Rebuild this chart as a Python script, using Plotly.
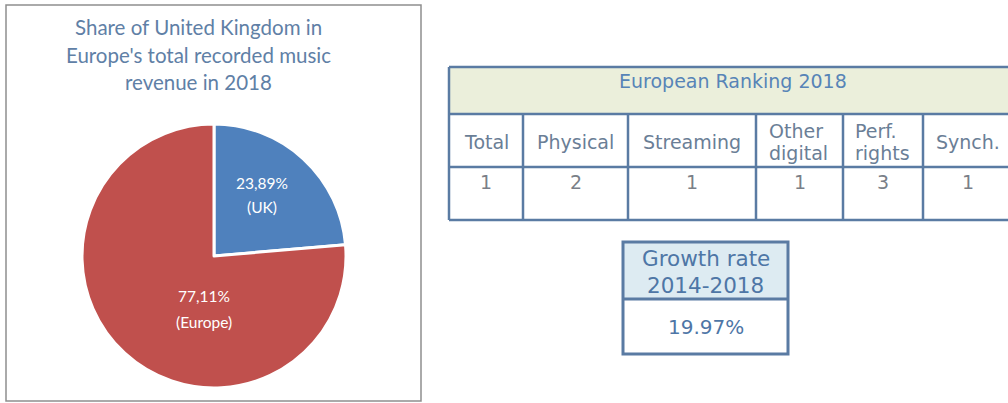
import plotly.graph_objects as go

# ---- data ----
pie_labels = ["UK", "Europe"]
pie_values = [23.89, 77.11]
pie_colors = ["#4F81BD", "#C0504D"]
pie_title_lines = ["Share of United Kingdom in", "Europe's total recorded music", "revenue in 2018"]

ranking_title = "European Ranking 2018"
ranking_columns = ["Total", "Physical", "Streaming", "Other<br>digital", "Perf.<br>rights", "Synch."]
ranking_values = [1, 2, 1, 1, 3, 1]

growth_title_lines = ["Growth rate", "2014-2018"]
growth_rate = 19.97

# ---- page geometry (pixels) ----
W, H = 1008, 403


def px(x):
    return x / W


def py(y):
    return 1 - y / H


BORDER = "#5A7BA3"
shapes = []
annotations = []


def rect(x0, y0, x1, y1, fill="rgba(0,0,0,0)", line=BORDER, width=2.5):
    shapes.append(dict(type="rect", xref="paper", yref="paper",
                       x0=px(x0), x1=px(x1), y0=py(y1), y1=py(y0),
                       fillcolor=fill, line=dict(color=line, width=width), layer="below"))


def hline(x0, x1, y, color=BORDER, width=2.5):
    shapes.append(dict(type="line", xref="paper", yref="paper",
                       x0=px(x0), x1=px(x1), y0=py(y), y1=py(y),
                       line=dict(color=color, width=width)))


def vline(x, y0, y1, color=BORDER, width=2.5):
    shapes.append(dict(type="line", xref="paper", yref="paper",
                       x0=px(x), x1=px(x), y0=py(y0), y1=py(y1),
                       line=dict(color=color, width=width)))


def text(x, y, s, size, color, family="DejaVu Sans", align="center", box_width=None):
    ann = dict(xref="paper", yref="paper", x=px(x), y=py(y), text=s,
               showarrow=False, xanchor="center", yanchor="middle", align=align,
               font=dict(family=family, size=size, color=color))
    if box_width is not None:
        ann["width"] = box_width
    annotations.append(ann)


# ---- left panel: pie chart ----
rect(6, 5, 421, 401, fill="white", line="#8E8E8E", width=1.5)

title_y = [27, 55, 82]
for line_text, y in zip(pie_title_lines, title_y):
    text(198, y, line_text, 20.5, "#5F80A6", family="Lato")

cx, cy, r = 214, 256, 132
fig = go.Figure(go.Pie(
    labels=pie_labels,
    values=pie_values,
    sort=False,
    direction="clockwise",
    rotation=0,
    textinfo="none",
    hoverinfo="label+value",
    marker=dict(colors=pie_colors, line=dict(color="white", width=3)),
    domain=dict(x=[px(cx - r), px(cx + r)], y=[py(cy + r), py(cy - r)]),
    showlegend=False,
))

# slice labels, formatted with a decimal comma
label_pos = [(262, 183, 207), (204, 296, 322)]
for lab, val, (lx, ly1, ly2) in zip(pie_labels, pie_values, label_pos):
    text(lx, ly1, f"{val:.2f}".replace(".", ",") + "%", 15.5, "white", family="Lato")
    text(lx, ly2, f"({lab})", 15.5, "white", family="Lato")

# ---- right panel: ranking table ----
col_edges = [449, 523, 628, 756, 843, 923, 1012]
row_top, row_head, row_lab, row_bot = 67, 114, 167, 220
# width of the left-aligned box used for two-line column headings
wrap_width = {3: 62, 4: 57}

rect(col_edges[0], row_top, col_edges[-1], row_head, fill="#EBEFDB", width=0)
hline(col_edges[0], col_edges[-1], row_top)
hline(col_edges[0], col_edges[-1], row_head)
hline(col_edges[0], col_edges[-1], row_lab)
hline(col_edges[0], col_edges[-1], row_bot)
vline(col_edges[0], row_top, row_bot)
for xe in col_edges[1:-1]:
    vline(xe, row_head, row_bot)

text((col_edges[0] + col_edges[-1]) / 2 + 2, 81, ranking_title, 19, "#5784B7")

for i, (lab, val) in enumerate(zip(ranking_columns, ranking_values)):
    xc = (col_edges[i] + col_edges[i + 1]) / 2
    parts = lab.split("<br>")
    if len(parts) == 1:
        text(xc, 142, parts[0], 19, "#6A7E96")
    else:
        for p, yy in zip(parts, [131, 153]):
            text(xc, yy, p, 19, "#6A7E96", align="left", box_width=wrap_width.get(i))
    text(xc, 182, str(val), 19, "#7A7F88")

# ---- growth rate box ----
gx0, gx1 = 623, 788
gy0, gmid, gy1 = 242, 299, 354
rect(gx0, gy0, gx1, gmid, fill="#DDEBF2", width=0)
rect(gx0, gy0, gx1, gy1, width=3)
hline(gx0, gx1, gmid, width=3)
gxc = (gx0 + gx1) / 2
for line_text, y in zip(growth_title_lines, [258, 285]):
    text(gxc, y, line_text, 21.5, "#4E76A6")
text(gxc, 327, f"{growth_rate:.2f}%", 20, "#4E76A6")

fig.update_layout(
    width=W, height=H,
    margin=dict(l=0, r=0, t=0, b=0),
    paper_bgcolor="white",
    plot_bgcolor="white",
    shapes=shapes,
    annotations=annotations,
)

fig.write_html("out.html", config={"displayModeBar": False})
